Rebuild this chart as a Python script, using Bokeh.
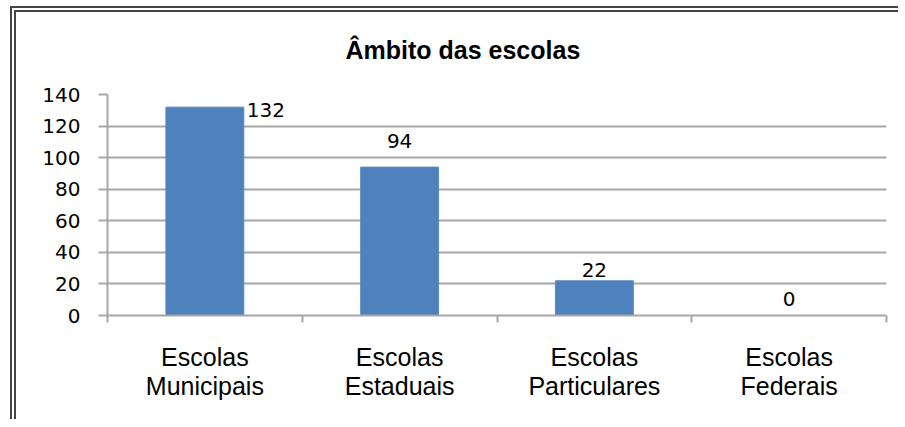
from bokeh.plotting import figure
from bokeh.models import ColumnDataSource, FixedTicker, LabelSet, Title, Range1d
from bokeh.core.properties import value
from bokeh.embed import file_html
from bokeh.resources import INLINE
import numpy as np

# ---- data ----
categories = ["Escolas\nMunicipais", "Escolas\nEstaduais", "Escolas\nParticulares", "Escolas\nFederais"]
values = [132, 94, 22, 0]
y_ticks = [0, 20, 40, 60, 80, 100, 120, 140]
title_text = "Âmbito das escolas"

# label placement (style only)
label_side = ["right", "top", "top", "top"]
label_lift = [-3, 26, 11, 17]

GRID = "#a6a6a6"
BAR = "#4f81bd"

xs = np.arange(len(categories)) + 0.5

p = figure(width=888, height=413, output_backend="svg", toolbar_location=None,
           x_range=Range1d(0, len(categories)), y_range=Range1d(0, 140),
           min_border_left=91, min_border_right=18, min_border_top=82, min_border_bottom=110,
           title=title_text)
p.margin = (6, 0, 0, 10)
p.styles = {"border-left": "6px double #444444", "border-top": "6px double #444444"}
p.outline_line_color = None
p.background_fill_color = "white"
p.border_fill_color = "white"

# spacer between title and plot frame
p.add_layout(Title(text=" ", text_font_size="1px", standoff=8), "above")

p.title.align = "left"
p.title.offset = 238
p.title.text_font = "Liberation Sans"
p.title.text_font_size = "25px"
p.title.text_font_style = "bold"
p.title.text_color = "#000000"
p.title.standoff = 40

src = ColumnDataSource(dict(x=xs, top=values))
p.vbar(x="x", top="top", width=0.4, source=src, fill_color=BAR, line_color="#5b8ac4", line_width=1)

# labels
top_idx = [i for i, s in enumerate(label_side) if s == "top"]
right_idx = [i for i, s in enumerate(label_side) if s == "right"]
src_top = ColumnDataSource(dict(x=[xs[i] for i in top_idx], y=[values[i] for i in top_idx],
                                label=[str(values[i]) for i in top_idx], lift=[label_lift[i] for i in top_idx]))
src_right = ColumnDataSource(dict(x=[xs[i] + 0.2 for i in right_idx], y=[values[i] for i in right_idx],
                                  label=[str(values[i]) for i in right_idx], lift=[label_lift[i] for i in right_idx]))
for s, align, xo in ((src_top, "center", 0), (src_right, "left", 3)):
    p.add_layout(LabelSet(x="x", y="y", text="label", source=s, y_offset="lift", x_offset=xo,
                          text_align=align, text_baseline="middle",
                          text_font=value("DejaVu Sans"), text_font_size="20px", text_color="#000000"))

# grid
p.xgrid.grid_line_color = None
p.ygrid.ticker = FixedTicker(ticks=y_ticks)
p.ygrid.grid_line_color = GRID
p.ygrid.grid_line_width = 2

# y axis
yax = p.yaxis[0]
yax.ticker = FixedTicker(ticks=y_ticks)
yax.axis_line_color = GRID
yax.axis_line_width = 2
yax.major_tick_line_color = GRID
yax.major_tick_line_width = 2
yax.major_tick_out = 9
yax.major_tick_in = 0
yax.minor_tick_line_color = None
yax.major_label_standoff = 18
yax.major_label_text_font = "DejaVu Sans"
yax.major_label_text_font_size = "20px"
yax.major_label_text_color = "#000000"

# x axis
xax = p.xaxis[0]
xax.ticker = FixedTicker(ticks=list(xs), minor_ticks=list(range(len(categories) + 1)))
xax.major_label_overrides = {float(x): c for x, c in zip(xs, categories)}
xax.axis_line_color = GRID
xax.axis_line_width = 2
xax.major_tick_line_color = None
xax.major_tick_out = 0
xax.minor_tick_line_color = GRID
xax.minor_tick_line_width = 2
xax.minor_tick_out = 7
xax.minor_tick_in = 0
xax.major_label_standoff = 20
xax.major_label_text_font = "Liberation Sans"
xax.major_label_text_font_size = "25px"
xax.major_label_text_color = "#000000"
xax.major_label_text_line_height = 1.05

open("out.html", "w").write(file_html(p, INLINE))
